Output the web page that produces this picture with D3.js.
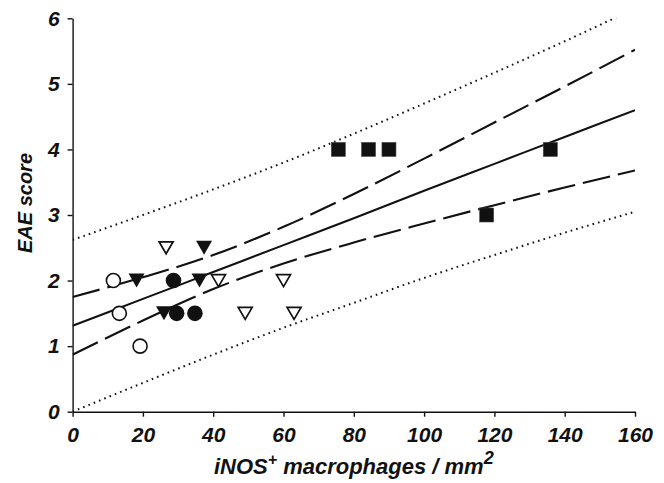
<!DOCTYPE html>
<html>
<head>
<meta charset="utf-8">
<script src="https://cdn.jsdelivr.net/npm/d3@7"></script>
<style>
html, body { margin: 0; padding: 0; background: #fff; }
svg text { font-family: "Liberation Sans", Arial, Helvetica, sans-serif; font-weight: bold; font-style: italic; fill: #111; }
</style>
</head>
<body>
<svg id="chart" width="664" height="483"></svg>
<script>
// ---- data ----
const xTicks = [0, 20, 40, 60, 80, 100, 120, 140, 160];
const yTicks = [0, 1, 2, 3, 4, 5, 6];

const openCircleX = [11.6, 13.3, 19.2];
const openCircleY = [2, 1.5, 1];

const filledTriangleX = [18.2, 37.4, 36.1, 26.0];
const filledTriangleY = [2, 2.5, 2, 1.5];

const filledCircleX = [28.7, 29.6, 34.8];
const filledCircleY = [2, 1.5, 1.5];

const openTriangleX = [26.6, 41.5, 60.0, 49.1, 63.0];
const openTriangleY = [2.5, 2, 2, 1.5, 1.5];

const squareX = [75.6, 84.2, 90.0, 135.9, 117.8];
const squareY = [4, 4, 4, 4, 3];

// regression line and bands, sampled along x
const bandX   = [0, 20, 40, 60, 80, 100, 120, 140, 160];
const fitY    = [1.31, 1.72, 2.13, 2.54, 2.95, 3.37, 3.78, 4.19, 4.60];
const upperCI = [1.75, 2.05, 2.39, 2.82, 3.32, 3.86, 4.41, 4.96, 5.52];
const lowerCI = [0.87, 1.39, 1.87, 2.26, 2.58, 2.87, 3.15, 3.42, 3.68];
const upperPI = [2.62, 3.00, 3.39, 3.80, 4.24, 4.70, 5.17, 5.65, 6.15];
const lowerPI = [0.00, 0.44, 0.87, 1.28, 1.66, 2.04, 2.39, 2.73, 3.05];

const xLabel = "iNOS";
const yLabel = "EAE score";

// ---- drawing ----
const svg = d3.select("#chart");
const x = d3.scaleLinear().domain([0, 160]).range([72.6, 635]);
const y = d3.scaleLinear().domain([0, 6]).range([411.7, 18.3]);
const ink = "#111";

svg.append("defs").append("clipPath").attr("id", "plotclip")
  .append("rect")
  .attr("x", x(0)).attr("y", y(6))
  .attr("width", x(160) - x(0)).attr("height", y(0) - y(6));

const plot = svg.append("g").attr("clip-path", "url(#plotclip)");

const line = d3.line().x(d => x(d[0])).y(d => y(d[1])).curve(d3.curveMonotoneX);
const pairs = arr => bandX.map((v, i) => [v, arr[i]]);

plot.append("path").datum(pairs(upperPI)).attr("d", line)
  .attr("fill", "none").attr("stroke", ink).attr("stroke-width", 2)
  .attr("stroke-dasharray", "1.6,4.1").attr("stroke-linecap", "butt");
plot.append("path").datum(pairs(lowerPI)).attr("d", line)
  .attr("fill", "none").attr("stroke", ink).attr("stroke-width", 2)
  .attr("stroke-dasharray", "1.6,4.1").attr("stroke-linecap", "butt");
plot.append("path").datum(pairs(upperCI)).attr("d", line)
  .attr("fill", "none").attr("stroke", ink).attr("stroke-width", 2.1)
  .attr("stroke-dasharray", "28,8");
plot.append("path").datum(pairs(lowerCI)).attr("d", line)
  .attr("fill", "none").attr("stroke", ink).attr("stroke-width", 2.1)
  .attr("stroke-dasharray", "28,8");
plot.append("path").datum(pairs(fitY)).attr("d", line)
  .attr("fill", "none").attr("stroke", ink).attr("stroke-width", 2);

// axes
const xAxis = d3.axisBottom(x).tickValues(xTicks).tickSize(5).tickSizeOuter(0).tickPadding(10)
  .tickFormat(d3.format("d"));
const yAxis = d3.axisLeft(y).tickValues(yTicks).tickSize(5).tickSizeOuter(0).tickPadding(8)
  .tickFormat(d3.format("d"));

const gx = svg.append("g").attr("transform", `translate(0,${y(0)})`).call(xAxis);
const gy = svg.append("g").attr("transform", `translate(${x(0)},0)`).call(yAxis);
[gx, gy].forEach(g => {
  g.selectAll("path.domain").attr("stroke", ink).attr("stroke-width", 1.4);
  g.selectAll(".tick line").attr("stroke", ink).attr("stroke-width", 1.4);
  g.selectAll(".tick text").attr("font-size", 21).attr("fill", ink)
    .style("font-family", '"Liberation Sans", Arial, sans-serif')
    .style("font-weight", "bold").style("font-style", "italic");
});

// markers
const pts = (xs, ys) => xs.map((v, i) => [v, ys[i]]);
const triDown = (cx, cy, w, h) =>
  `M${cx - w / 2},${cy - h / 2}L${cx + w / 2},${cy - h / 2}L${cx},${cy + h / 2}Z`;

svg.append("g").selectAll("path").data(pts(openTriangleX, openTriangleY)).join("path")
  .attr("d", d => triDown(x(d[0]), y(d[1]), 14, 12))
  .attr("fill", "#fff").attr("stroke", ink).attr("stroke-width", 1.7).attr("stroke-linejoin", "miter");

svg.append("g").selectAll("path").data(pts(filledTriangleX, filledTriangleY)).join("path")
  .attr("d", d => triDown(x(d[0]), y(d[1]), 16, 14))
  .attr("fill", ink);

svg.append("g").selectAll("circle").data(pts(filledCircleX, filledCircleY)).join("circle")
  .attr("cx", d => x(d[0])).attr("cy", d => y(d[1])).attr("r", 7.8)
  .attr("fill", ink);

svg.append("g").selectAll("circle").data(pts(openCircleX, openCircleY)).join("circle")
  .attr("cx", d => x(d[0])).attr("cy", d => y(d[1])).attr("r", 7)
  .attr("fill", "#fff").attr("stroke", ink).attr("stroke-width", 1.6);

svg.append("g").selectAll("rect").data(pts(squareX, squareY)).join("rect")
  .attr("x", d => x(d[0]) - 7).attr("y", d => y(d[1]) - 7)
  .attr("width", 14).attr("height", 14)
  .attr("fill", ink).attr("stroke", "#444").attr("stroke-width", 0.6);

// axis titles
const xt = svg.append("text").attr("x", (x(0) + x(160)) / 2).attr("y", 474)
  .attr("text-anchor", "middle").attr("font-size", 22);
xt.append("tspan").text(xLabel);
xt.append("tspan").attr("dy", -9).attr("font-size", 16).text("+");
xt.append("tspan").attr("dy", 9).text(" macrophages / mm");
xt.append("tspan").attr("dy", -10).attr("font-size", 18).text("2");

svg.append("text").attr("transform", "translate(32,203) rotate(-90)")
  .attr("text-anchor", "middle").attr("font-size", 20).text(yLabel);
</script>
</body>
</html>
